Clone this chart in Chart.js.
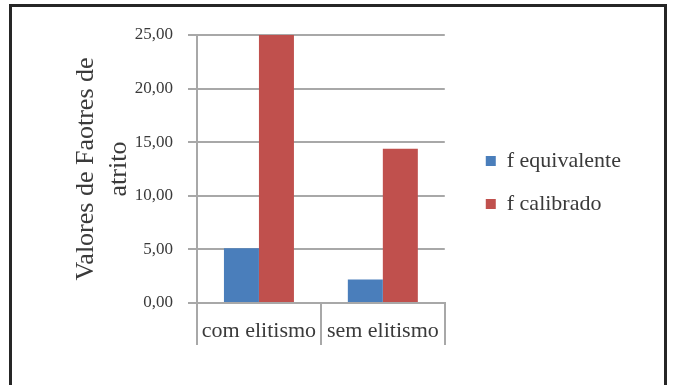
<!DOCTYPE html>
<html>
<head>
<meta charset="utf-8">
<script src="https://cdn.jsdelivr.net/npm/chart.js@4/dist/chart.umd.min.js"></script>
<style>
  html, body { margin: 0; padding: 0; background: #fff; }
  body { width: 673px; height: 385px; position: relative; overflow: hidden; }
  #frame { position: absolute; left: 9px; top: 4px; width: 652px; height: 420px; border: 3px solid #262626; box-sizing: content-box; }
  #wrap { position: absolute; left: 0; top: 0; width: 673px; height: 385px; }
</style>
</head>
<body>
<div id="frame"></div>
<div id="wrap"><canvas id="chart" width="673" height="385"></canvas></div>
<script>
// Friction factor values per selection strategy
const categories = ['com elitismo', 'sem elitismo'];
const fEquivalente = [5.1, 2.2];
const fCalibrado = [25.0, 14.4];
const seriesNames = ['f equivalente', 'f calibrado'];
const axisTitle = ['Valores de Faotres de', 'atrito'];
const yMin = 0, yMax = 25, yStep = 5;

const FONT = "'Liberation Serif', 'Times New Roman', serif";
const TEXT = '#3a3a3a';
const GRID = '#a8a8a8';

new Chart(document.getElementById('chart'), {
  type: 'bar',
  data: {
    labels: categories,
    datasets: [
      { label: seriesNames[0], data: fEquivalente, backgroundColor: '#4a7ebb', yAxisID: 'y' },
      { label: seriesNames[1], data: fCalibrado, backgroundColor: '#c0504d', yAxisID: 'y' }
    ]
  },
  options: {
    responsive: false,
    animation: false,
    events: [],
    layout: { padding: { top: 35, right: 42, bottom: 0, left: 0 } },
    datasets: { bar: { categoryPercentage: 0.565, barPercentage: 1.0 } },
    scales: {
      x: {
        grid: { display: true, drawOnChartArea: false, drawTicks: true, tickLength: 42, color: GRID, lineWidth: 2, offset: true },
        border: { display: true, color: GRID, width: 2 },
        ticks: { font: { family: FONT, size: 22 }, color: TEXT, padding: -27, maxRotation: 0 },
        afterFit: s => { s.height = 82; }
      },
      y: {
        min: yMin, max: yMax,
        ticks: {
          stepSize: yStep,
          font: { family: FONT, size: 17 },
          color: TEXT,
          padding: 15,
          callback: v => v.toFixed(2).replace('.', ',')
        },
        grid: { color: GRID, lineWidth: 2, tickLength: 9 },
        border: { color: GRID, width: 2 },
        title: {
          display: true,
          text: axisTitle,
          font: { family: FONT, size: 26, lineHeight: 1.27 },
          color: TEXT,
          padding: { top: 70, bottom: 0 }
        },
        afterFit: s => { s.width = 197; }
      },
      gap: {
        type: 'linear',
        axis: 'y',
        position: 'right',
        display: true,
        grid: { display: false },
        ticks: { display: false },
        border: { display: false },
        afterFit: s => { s.width = 20; }
      }
    },
    plugins: {
      tooltip: { enabled: false },
      legend: {
        position: 'right',
        align: 'start',
        maxWidth: 400,
        title: { display: true, text: ' ', font: { size: 10 }, padding: { top: 82, bottom: 0 } },
        labels: {
          boxWidth: 10,
          boxHeight: 10,
          padding: 21,
          color: TEXT,
          font: { family: FONT, size: 22 }
        }
      }
    }
  }
});
</script>
</body>
</html>
